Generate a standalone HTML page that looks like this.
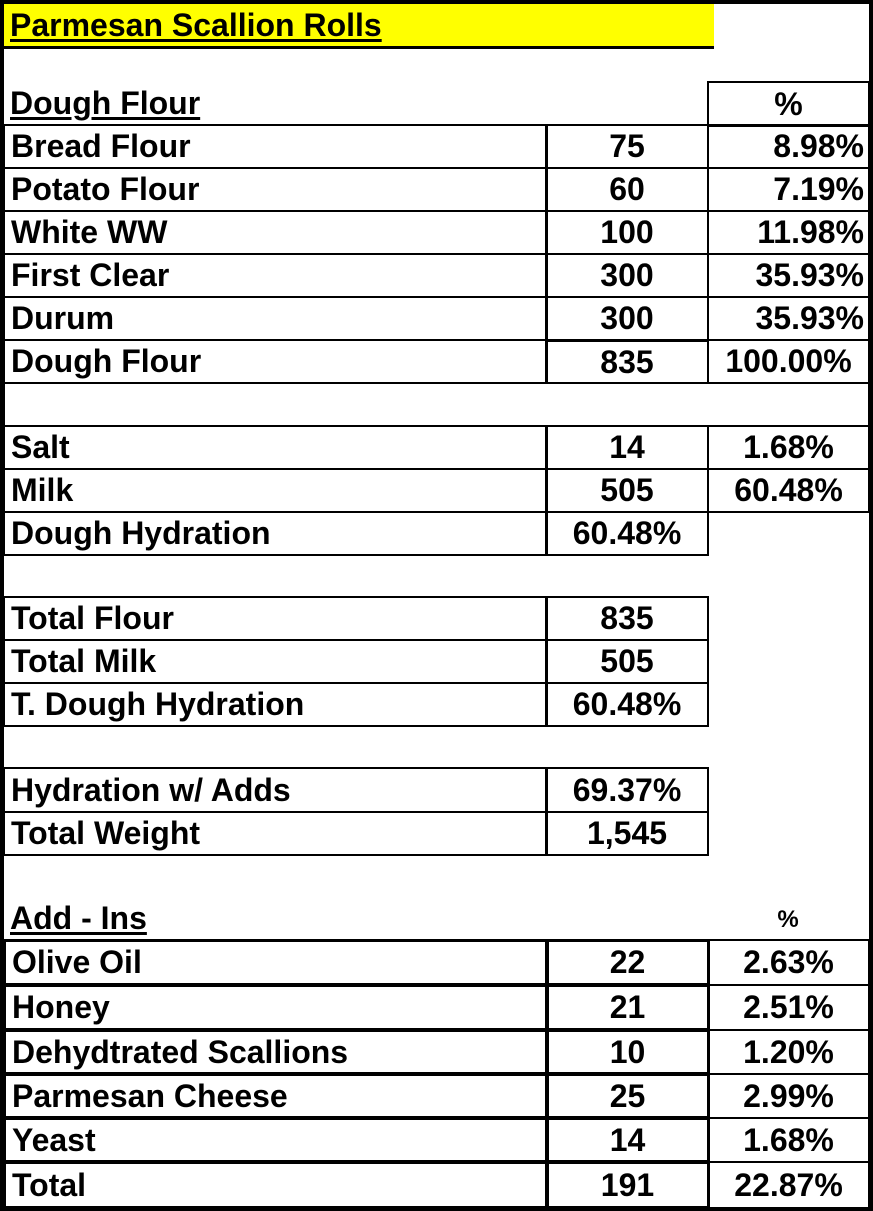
<!DOCTYPE html>
<html><head><meta charset="utf-8"><style>
body{margin:0;width:873px;height:1211px;background:#fff;position:relative;overflow:hidden;font-family:"Liberation Sans",Arial,sans-serif;font-weight:bold;font-size:32px;color:#000}
.frame{position:absolute;left:0;top:0;width:873px;height:1211px;border:4px solid #000;box-sizing:border-box}
.c{position:absolute;border:2px solid #000;box-sizing:border-box;display:flex;align-items:center;white-space:nowrap}
.t{position:absolute;display:flex;align-items:center;white-space:nowrap}
.l{padding-left:6px}
.m{justify-content:center}
.r{justify-content:flex-end;padding-right:4px}
.k{border-width:3px}
u{text-decoration-thickness:3px;text-underline-offset:3px}
</style></head><body>
<div class="frame"></div>
<div class="t l" style="left:4px;top:4px;width:704px;height:42px;background:#ffff00;border-bottom:3px solid #000"><u>Parmesan Scallion Rolls</u></div>

<div class="t l" style="left:4px;top:82px;height:43px"><u>Dough Flour</u></div>
<div class="c m" style="left:707px;top:81px;width:163px;height:46px">%</div>

<div class="c l" style="left:3px;top:124px;width:545px;height:45px">Bread Flour</div>
<div class="c m" style="left:545px;top:124px;width:164px;height:45px">75</div>
<div class="c r" style="left:707px;top:124px;width:163px;height:45px">8.98%</div>
<div class="c l" style="left:3px;top:167px;width:545px;height:45px">Potato Flour</div>
<div class="c m" style="left:545px;top:167px;width:164px;height:45px">60</div>
<div class="c r" style="left:707px;top:167px;width:163px;height:45px">7.19%</div>
<div class="c l" style="left:3px;top:210px;width:545px;height:45px">White WW</div>
<div class="c m" style="left:545px;top:210px;width:164px;height:45px">100</div>
<div class="c r" style="left:707px;top:210px;width:163px;height:45px">11.98%</div>
<div class="c l" style="left:3px;top:253px;width:545px;height:45px">First Clear</div>
<div class="c m" style="left:545px;top:253px;width:164px;height:45px">300</div>
<div class="c r" style="left:707px;top:253px;width:163px;height:45px">35.93%</div>
<div class="c l" style="left:3px;top:296px;width:545px;height:45px">Durum</div>
<div class="c m" style="left:545px;top:296px;width:164px;height:45px">300</div>
<div class="c r" style="left:707px;top:296px;width:163px;height:45px">35.93%</div>
<div class="c l" style="left:3px;top:339px;width:545px;height:45px">Dough Flour</div>
<div class="c m" style="left:545px;top:339px;width:164px;height:45px;border-top-width:3px">835</div>
<div class="c m" style="left:707px;top:339px;width:163px;height:45px">100.00%</div>
<div class="c" style="left:3px;top:382px;width:867px;height:45px"></div>

<div class="c l" style="left:3px;top:425px;width:545px;height:45px">Salt</div>
<div class="c m" style="left:545px;top:425px;width:164px;height:45px">14</div>
<div class="c m" style="left:707px;top:425px;width:163px;height:45px">1.68%</div>
<div class="c l" style="left:3px;top:468px;width:545px;height:45px">Milk</div>
<div class="c m" style="left:545px;top:468px;width:164px;height:45px">505</div>
<div class="c m" style="left:707px;top:468px;width:163px;height:45px">60.48%</div>
<div class="c l" style="left:3px;top:511px;width:545px;height:45px">Dough Hydration</div>
<div class="c m" style="left:545px;top:511px;width:164px;height:45px">60.48%</div>

<div class="c l" style="left:3px;top:596px;width:545px;height:45px">Total Flour</div>
<div class="c m" style="left:545px;top:596px;width:164px;height:45px">835</div>
<div class="c l" style="left:3px;top:639px;width:545px;height:45px">Total Milk</div>
<div class="c m" style="left:545px;top:639px;width:164px;height:45px">505</div>
<div class="c l" style="left:3px;top:682px;width:545px;height:45px">T. Dough Hydration</div>
<div class="c m" style="left:545px;top:682px;width:164px;height:45px">60.48%</div>

<div class="c l" style="left:3px;top:767px;width:545px;height:46px">Hydration w/ Adds</div>
<div class="c m" style="left:545px;top:767px;width:164px;height:46px">69.37%</div>
<div class="c l" style="left:3px;top:811px;width:545px;height:45px">Total Weight</div>
<div class="c m" style="left:545px;top:811px;width:164px;height:45px">1,545</div>

<div class="t l" style="left:4px;top:897px;height:43px"><u>Add - Ins</u></div>
<div class="t m" style="left:708px;top:900px;width:160px;height:40px;font-size:24px">%</div>

<div class="c l k" style="left:3px;top:939px;width:546px;height:47px">Olive Oil</div>
<div class="c m k" style="left:545px;top:939px;width:165px;height:47px">22</div>
<div class="c m" style="left:707px;top:939px;width:163px;height:47px">2.63%</div>
<div class="c l k" style="left:3px;top:984px;width:546px;height:47px">Honey</div>
<div class="c m k" style="left:545px;top:984px;width:165px;height:47px">21</div>
<div class="c m" style="left:707px;top:984px;width:163px;height:47px">2.51%</div>
<div class="c l k" style="left:3px;top:1029px;width:546px;height:46px">Dehydtrated Scallions</div>
<div class="c m k" style="left:545px;top:1029px;width:165px;height:46px">10</div>
<div class="c m" style="left:707px;top:1029px;width:163px;height:46px">1.20%</div>
<div class="c l k" style="left:3px;top:1073px;width:546px;height:46px">Parmesan Cheese</div>
<div class="c m k" style="left:545px;top:1073px;width:165px;height:46px">25</div>
<div class="c m" style="left:707px;top:1073px;width:163px;height:46px">2.99%</div>
<div class="c l k" style="left:3px;top:1117px;width:546px;height:46px">Yeast</div>
<div class="c m k" style="left:545px;top:1117px;width:165px;height:46px">14</div>
<div class="c m" style="left:707px;top:1117px;width:163px;height:46px">1.68%</div>
<div class="c l k" style="left:3px;top:1161px;width:546px;height:48px">Total</div>
<div class="c m k" style="left:545px;top:1161px;width:165px;height:48px">191</div>
<div class="c m" style="left:707px;top:1161px;width:163px;height:48px">22.87%</div>
</body></html>
